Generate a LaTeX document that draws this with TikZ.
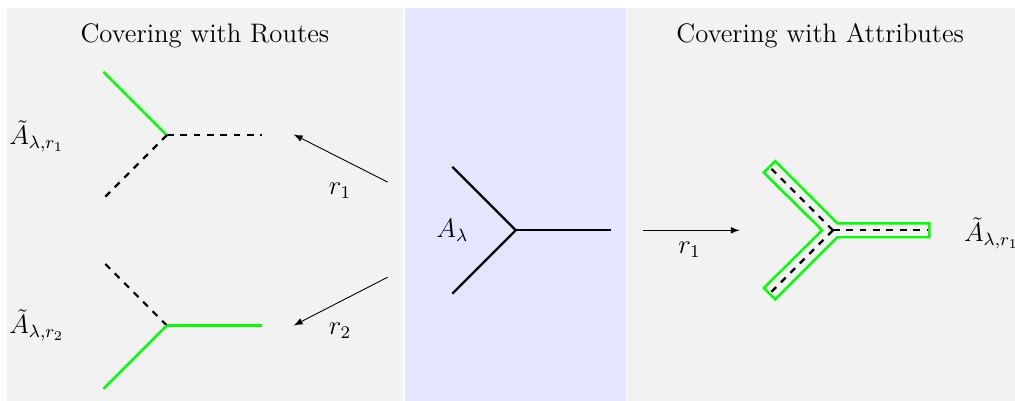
\documentclass[tikz,border=0pt]{standalone}
\usepackage{amssymb}
\usetikzlibrary{arrows.meta,positioning}
\tikzset{
  panel/.style    = {fill=gray!10, draw=none},
  midpanel/.style = {fill=blue!10, draw=none},
  arc/.style      = {line width=1pt, black},
  route/.style    = {line width=1.1pt, green},
  unused/.style   = {line width=1pt, dashed, black},
  cover/.style    = {line width=1.1pt, green, line join=miter},
  proj/.style     = {-latex},
  lab/.style      = {font=\large},
  paneltitle/.style = {font=\large},
}

\begin{document}
\begin{tikzpicture}
\useasboundingbox (-8.13,-2.68) rectangle (7.87,3.63);
\fill[panel] (-8.02,-2.8) rectangle (-1.77,3.51);
\fill[midpanel] (-1.75,-2.8) rectangle (1.73,3.51);
\fill[panel] (1.76,-2.8) rectangle (8,3.51);

\node[paneltitle] (troutes) at (-4.9,3.06) {Covering with Routes};
\node[paneltitle] (tattr) at (4.8,3.06) {Covering with Attributes};

% the arc itself
\coordinate (y0) at (0,0);
\coordinate (y0a) at (-1,1);
\coordinate (y0b) at (-1,-1);
\coordinate (y0c) at (1.5,0);
\draw[arc] (y0a) -- (y0) -- (y0b);
\draw[arc] (y0) -- (y0c);
\node[lab] (alam) at (-1.0,0) {$A_\lambda$};

% covering with routes
\coordinate (y1) at (-5.5,1.5);
\coordinate (y1a) at (-6.5,2.5);
\coordinate (y1b) at (-6.5,0.5);
\coordinate (y1c) at (-4,1.5);
\draw[route] (y1) -- (y1a);
\draw[unused] (y1) -- (y1b);
\draw[unused] (y1) -- (y1c);
\node[lab] (lr1) at (-7.55,1.48) {$\tilde{A}_{\lambda,r_1}$};

\coordinate (y2) at (-5.5,-1.5);
\coordinate (y2a) at (-6.5,-0.5);
\coordinate (y2b) at (-6.5,-2.5);
\coordinate (y2c) at (-4,-1.5);
\draw[unused] (y2) -- (y2a);
\draw[route] (y2) -- (y2b);
\draw[route] (y2) -- (y2c);
\node[lab] (lr2) at (-7.55,-1.5) {$\tilde{A}_{\lambda,r_2}$};

\coordinate (s1) at (-2.02,0.76);
\coordinate (t1) at (-3.5,1.51);
\coordinate (s2) at (-2.02,-0.74);
\coordinate (t2) at (-3.5,-1.5);
\draw[proj] (s1) to (t1) {} ;
\draw[proj] (s2) to (t2) {} ;
\node[lab] (r1) at (-2.77,0.63) {$r_1$};
\node[lab] (r2) at (-2.77,-1.59) {$r_2$};

% covering with attributes
\coordinate (y3) at (5,0);
\coordinate (y3a) at (4,1);
\coordinate (y3b) at (4,-1);
\coordinate (y3c) at (6.5,0);
\draw[cover] (6.52,0.11) -- (5.07,0.11) -- (4.09,1.09) -- (3.91,0.91)
  -- (4.83,0) -- (3.91,-0.91) -- (4.09,-1.09) -- (5.07,-0.11)
  -- (6.52,-0.11) -- cycle;
\draw[unused] (y3) -- (y3a);
\draw[unused] (y3) -- (y3b);
\draw[unused] (y3) -- (y3c);
\node[lab] (lr3) at (7.5,-0.05) {$\tilde{A}_{\lambda,r_1}$};

\coordinate (s3) at (2.0,0);
\coordinate (t3) at (3.53,0);
\draw[proj] (s3) to (t3) {} ;
\node[lab] (r3) at (2.74,-0.3) {$r_1$};
\end{tikzpicture}
\end{document}
